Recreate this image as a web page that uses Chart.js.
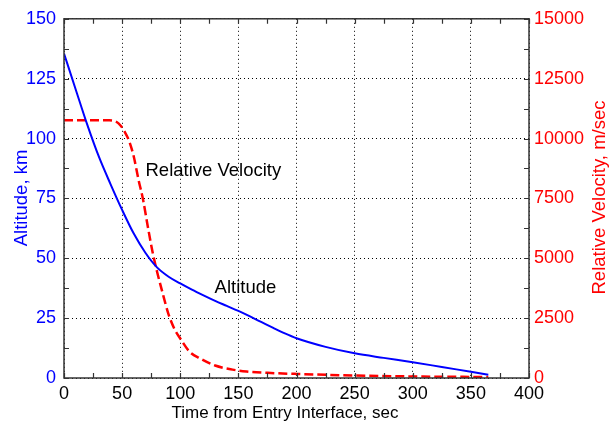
<!DOCTYPE html>
<html>
<head>
<meta charset="utf-8">
<script src="https://cdn.jsdelivr.net/npm/chart.js@4.4.1/dist/chart.umd.min.js"></script>
<style>
  html, body { margin: 0; padding: 0; background: #ffffff; }
  #wrap { width: 613px; height: 427px; }
</style>
</head>
<body>
<div id="wrap"><canvas id="c" width="613" height="427"></canvas></div>
<script>
// ---- Data ----
const altitudeTime = [0, 10, 20, 30, 40, 50, 60, 70, 80, 90, 100, 110, 120, 130, 140, 150, 160, 170, 180, 190, 200, 225, 250, 275, 300, 325, 350, 365];
const altitudeKm   = [135.5, 120.6, 105.8, 92.4, 81, 70.2, 60.3, 52.3, 46.2, 42.3, 39.5, 36.9, 34.5, 32.2, 30.1, 28, 25.7, 23.3, 20.9, 18.6, 16.6, 13, 10.3, 8.4, 6.6, 4.6, 2.6, 1.4];

const velocityTime = [0, 39, 45, 49, 52, 56, 60, 64, 68, 72, 76, 80, 84, 90, 95, 100, 108, 117, 130, 145, 157, 175, 200, 250, 300, 365];
const velocityMs   = [10760, 10760, 10700, 10520, 10300, 9900, 9250, 8300, 7450, 6350, 5300, 4450, 3700, 2650, 2050, 1650, 1100, 820, 520, 350, 270, 215, 170, 105, 65, 40];

const xTicks = { min: 0, max: 400, step: 50, minor: 25 };
const leftTicks = { min: 0, max: 150, step: 25, minor: 12.5 };
const rightTicks = { min: 0, max: 15000, step: 2500 };

const xTitle = 'Time from Entry Interface, sec';
const leftTitle = 'Altitude, km';
const rightTitle = 'Relative Velocity, m/sec';

const annotations = [
  { text: 'Relative Velocity', x: 70.1, y: 84.4 },
  { text: 'Altitude', x: 129.5, y: 35.5 }
];

const FONT = "'Liberation Sans', Arial, Helvetica, sans-serif";

const altPoints = altitudeTime.map((t, i) => ({ x: t, y: altitudeKm[i] }));
const velPoints = velocityTime.map((t, i) => ({ x: t, y: velocityMs[i] }));

const framePlugin = {
  id: 'framePlugin',
  afterDatasetsDraw(chart) {
    const ctx = chart.ctx;
    const a = chart.chartArea;
    const xs = chart.scales.x;
    const yl = chart.scales.y;
    ctx.save();
    // annotation texts
    ctx.fillStyle = '#000000';
    ctx.font = '18.5px ' + FONT;
    ctx.textAlign = 'left';
    ctx.textBaseline = 'alphabetic';
    annotations.forEach(an => {
      ctx.fillText(an.text, xs.getPixelForValue(an.x), yl.getPixelForValue(an.y));
    });
    // frame
    ctx.strokeStyle = '#333333';
    ctx.lineWidth = 1.5;
    ctx.strokeRect(a.left, a.top, a.right - a.left, a.bottom - a.top);
    // inward ticks
    const tl = 5;
    ctx.lineWidth = 1.2;
    ctx.beginPath();
    for (let v = xTicks.min; v <= xTicks.max + 1e-9; v += xTicks.minor) {
      const px = Math.round(xs.getPixelForValue(v)) + 0.5;
      ctx.moveTo(px, a.bottom); ctx.lineTo(px, a.bottom - tl);
      ctx.moveTo(px, a.top); ctx.lineTo(px, a.top + tl);
    }
    for (let v = leftTicks.min; v <= leftTicks.max + 1e-9; v += leftTicks.minor) {
      const py = Math.round(yl.getPixelForValue(v)) + 0.5;
      ctx.moveTo(a.left, py); ctx.lineTo(a.left + tl, py);
      ctx.moveTo(a.right, py); ctx.lineTo(a.right - tl, py);
    }
    ctx.stroke();

    // axis titles
    ctx.textAlign = 'center';
    ctx.textBaseline = 'alphabetic';
    ctx.fillStyle = '#000000';
    ctx.font = '17px ' + FONT;
    ctx.fillText(xTitle, 285, 418);

    ctx.font = '18.5px ' + FONT;
    ctx.fillStyle = '#0000ff';
    ctx.save();
    ctx.translate(27, 198);
    ctx.rotate(-Math.PI / 2);
    ctx.fillText(leftTitle, 0, 0);
    ctx.restore();

    ctx.fillStyle = '#ff0000';
    ctx.save();
    ctx.translate(605, 197.5);
    ctx.rotate(-Math.PI / 2);
    ctx.fillText(rightTitle, 0, 0);
    ctx.restore();

    ctx.restore();
  }
};

new Chart(document.getElementById('c'), {
  type: 'line',
  data: {
    datasets: [
      {
        label: 'Altitude',
        data: altPoints,
        yAxisID: 'y',
        borderColor: '#0000ff',
        borderWidth: 2,
        pointRadius: 0,
        fill: false,
        cubicInterpolationMode: 'monotone'
      },
      {
        label: 'Relative Velocity',
        data: velPoints,
        yAxisID: 'y1',
        borderColor: '#ff0000',
        borderWidth: 2.5,
        borderDash: [9, 4],
        pointRadius: 0,
        fill: false,
        cubicInterpolationMode: 'monotone'
      }
    ]
  },
  options: {
    responsive: false,
    devicePixelRatio: 1,
    animation: false,
    layout: { padding: { top: 12, left: 0, right: 0, bottom: 0 } },
    plugins: { legend: { display: false }, tooltip: { enabled: false } },
    scales: {
      x: {
        type: 'linear',
        min: xTicks.min, max: xTicks.max,
        border: { display: false, dash: [1, 3] },
        grid: { color: '#000000', lineWidth: 1, drawTicks: false },
        ticks: { stepSize: xTicks.step, color: '#000000', font: { family: FONT, size: 18 }, padding: 5, maxRotation: 0,
                 callback: v => String(v) },
        afterFit(s) { s.height = 49; }
      },
      y: {
        type: 'linear', position: 'left',
        min: leftTicks.min, max: leftTicks.max,
        border: { display: false, dash: [1, 3] },
        grid: { color: '#000000', lineWidth: 1, drawTicks: false },
        ticks: { stepSize: leftTicks.step, color: '#0000ff', font: { family: FONT, size: 18 }, padding: 8,
                 callback: v => String(v) },
        afterFit(s) { s.width = 64; }
      },
      y1: {
        type: 'linear', position: 'right',
        min: rightTicks.min, max: rightTicks.max,
        border: { display: false },
        grid: { display: false, drawTicks: false },
        ticks: { stepSize: rightTicks.step, color: '#ff0000', font: { family: FONT, size: 18 }, padding: 5,
                 callback: v => String(v) },
        afterFit(s) { s.width = 84; }
      }
    }
  },
  plugins: [framePlugin]
});
</script>
</body>
</html>
